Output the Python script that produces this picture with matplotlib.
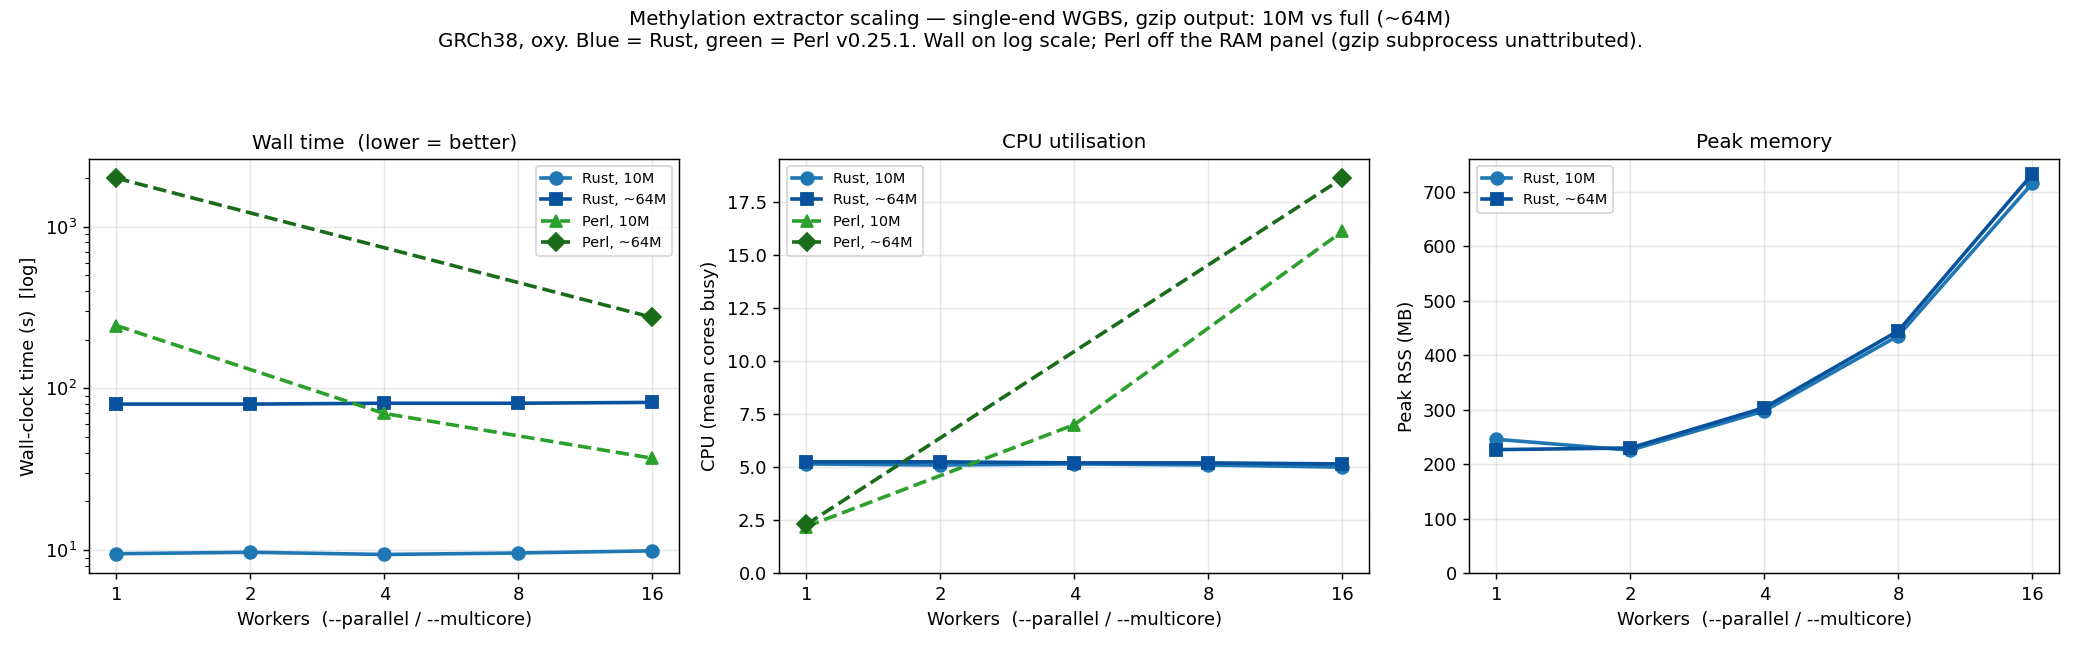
import matplotlib
matplotlib.use("Agg")
import matplotlib.pyplot as plt
from matplotlib.ticker import FixedLocator, NullLocator

workers = [1, 2, 4, 8, 16]

# wall-clock seconds
rust_10m_wall = [9.5, 9.7, 9.4, 9.6, 9.9]
rust_64m_wall = [80, 80, 81, 81, 82]
perl_10m_workers = [1, 4, 16]
perl_10m_wall = [245, 70, 37]
perl_64m_workers = [1, 16]
perl_64m_wall = [2000, 275]

# CPU (mean cores busy)
rust_10m_cpu = [5.15, 5.1, 5.15, 5.1, 5.0]
rust_64m_cpu = [5.25, 5.25, 5.2, 5.2, 5.15]
perl_10m_cpu = [2.2, 7.0, 16.1]
perl_64m_cpu = [2.3, 18.6]

# peak RSS (MB)
rust_10m_rss = [246, 226, 298, 436, 716]
rust_64m_rss = [227, 230, 304, 445, 733]

C_RUST10 = "#1f77b4"
C_RUST64 = "#08519c"
C_PERL10 = "#2ca02c"
C_PERL64 = "#1a6b1a"

fig, axes = plt.subplots(1, 3, figsize=(16, 5), dpi=130)
fig.subplots_adjust(left=0.043, right=0.99, top=0.755, bottom=0.118, wspace=0.17)

fig.suptitle("Methylation extractor scaling \u2014 single-end WGBS, gzip output: 10M vs full (~64M)\n"
             "GRCh38, oxy. Blue = Rust, green = Perl v0.25.1. Wall on log scale; Perl off the RAM panel "
             "(gzip subprocess unattributed).", fontsize=11, y=0.985)


def rust_lines(ax, a, b):
    ax.plot(workers, a, marker="o", color=C_RUST10, lw=2, ms=7, label="Rust, 10M")
    ax.plot(workers, b, marker="s", color=C_RUST64, lw=2, ms=7, label="Rust, ~64M")


def perl_lines(ax, a, b):
    ax.plot(perl_10m_workers, a, marker="^", ls="--", color=C_PERL10, lw=2, ms=7, label="Perl, 10M")
    ax.plot(perl_64m_workers, b, marker="D", ls="--", color=C_PERL64, lw=2, ms=7, label="Perl, ~64M")


ax = axes[0]
rust_lines(ax, rust_10m_wall, rust_64m_wall)
perl_lines(ax, perl_10m_wall, perl_64m_wall)
ax.set_yscale("log")
ax.set_title("Wall time  (lower = better)", fontsize=11)
ax.set_ylabel("Wall-clock time (s)  [log]")
ax.legend(loc="upper right", fontsize=8)

ax = axes[1]
rust_lines(ax, rust_10m_cpu, rust_64m_cpu)
perl_lines(ax, perl_10m_cpu, perl_64m_cpu)
ax.set_ylim(0, 19.5)
ax.set_title("CPU utilisation", fontsize=11)
ax.set_ylabel("CPU (mean cores busy)")
ax.legend(loc="upper left", fontsize=8)

ax = axes[2]
rust_lines(ax, rust_10m_rss, rust_64m_rss)
ax.set_ylim(0, 760)
ax.set_title("Peak memory", fontsize=11)
ax.set_ylabel("Peak RSS (MB)")
ax.legend(loc="upper left", fontsize=8)

for ax in axes:
    ax.set_xscale("log", base=2)
    ax.xaxis.set_major_locator(FixedLocator(workers))
    ax.xaxis.set_minor_locator(NullLocator())
    ax.set_xticklabels([str(w) for w in workers])
    ax.set_xlabel("Workers  (--parallel / --multicore)")
    ax.grid(True, alpha=0.3)

fig.savefig("out.png", dpi=130)
